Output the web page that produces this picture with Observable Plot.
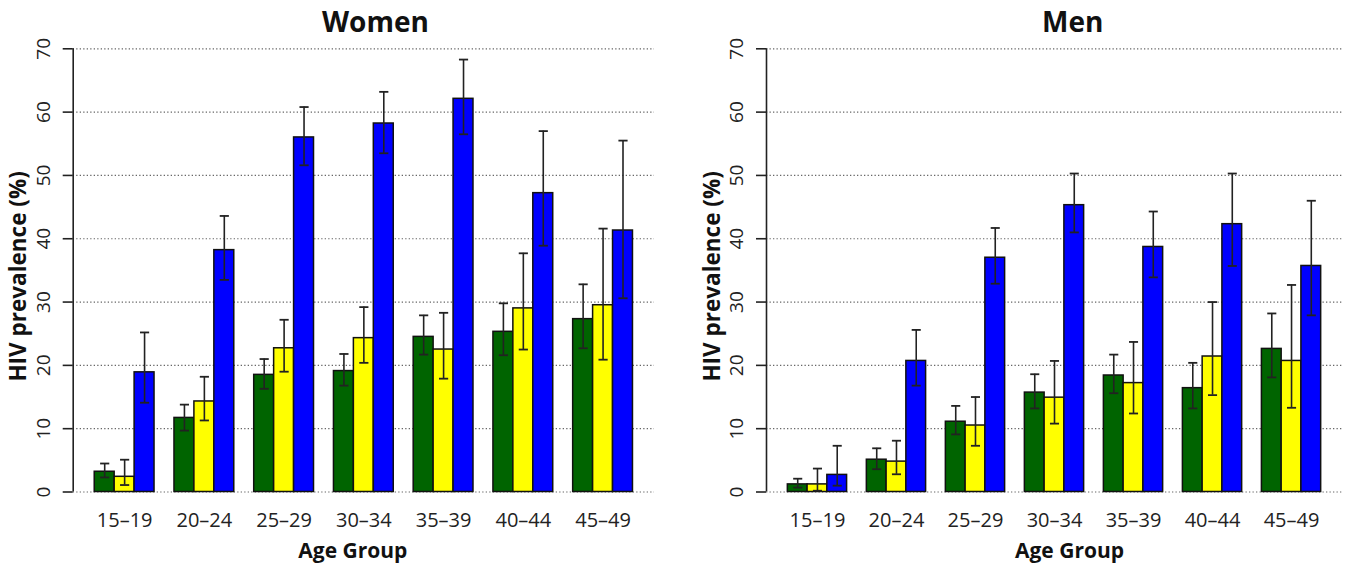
<!DOCTYPE html>
<html>
<head>
<meta charset="utf-8">
<script src="https://cdn.jsdelivr.net/npm/d3@7"></script>
<script src="https://cdn.jsdelivr.net/npm/@observablehq/plot@0.6"></script>
<style>
  html, body { margin: 0; padding: 0; background: #fff; }
  body { width: 1350px; height: 572px; overflow: hidden; font-family: "Open Sans", sans-serif; }
  #wrap { display: flex; flex-direction: row; }
  .panel { width: 675px; position: relative; }
  .title { height: 40px; line-height: 40px; padding-top: 1px; box-sizing: border-box; font-weight: 700; font-size: 28px; color: #111; white-space: nowrap; }
  svg { overflow: visible; display: block; }
</style>
</head>
<body>
<div id="wrap">
  <div class="panel" id="women"><div class="title" style="padding-left:322px">Women</div></div>
  <div class="panel" id="men"><div class="title" style="padding-left:367px">Men</div></div>
</div>
<script>
// ---- data ----
const ageGroups = ["15–19", "20–24", "25–29", "30–34", "35–39", "40–44", "45–49"];
const seriesNames = ["Series 1", "Series 2", "Series 3"];
const seriesColors = ["#006400", "#FFFF00", "#0000FF"];
const yTicks = [0, 10, 20, 30, 40, 50, 60, 70];

// Women
const womenS1 = [3.2, 11.7, 18.5, 19.1, 24.5, 25.3, 27.3];
const womenS1Lo = [2.3, 9.7, 16.3, 16.8, 21.7, 21.6, 22.7];
const womenS1Hi = [4.5, 13.8, 21.0, 21.8, 27.9, 29.8, 32.8];
const womenS2 = [2.4, 14.3, 22.7, 24.3, 22.5, 29.0, 29.5];
const womenS2Lo = [1.1, 11.3, 19.0, 20.4, 17.9, 22.5, 20.9];
const womenS2Hi = [5.1, 18.2, 27.2, 29.2, 28.3, 37.7, 41.6];
const womenS3 = [18.9, 38.2, 56.0, 58.2, 62.1, 47.2, 41.3];
const womenS3Lo = [14.1, 33.5, 51.6, 53.5, 56.5, 38.9, 30.6];
const womenS3Hi = [25.2, 43.6, 60.8, 63.2, 68.3, 57.0, 55.5];

// Men
const menS1 = [1.2, 5.1, 11.1, 15.7, 18.4, 16.4, 22.6];
const menS1Lo = [0.7, 3.6, 9.1, 13.2, 15.6, 13.2, 18.1];
const menS1Hi = [2.1, 6.9, 13.6, 18.6, 21.7, 20.4, 28.2];
const menS2 = [1.2, 4.8, 10.5, 14.9, 17.2, 21.4, 20.7];
const menS2Lo = [0.2, 2.8, 7.3, 10.8, 12.4, 15.3, 13.3];
const menS2Hi = [3.7, 8.1, 15.0, 20.7, 23.7, 30.0, 32.7];
const menS3 = [2.7, 20.7, 37.0, 45.3, 38.7, 42.3, 35.7];
const menS3Lo = [1.0, 16.8, 32.9, 41.0, 33.9, 35.7, 27.9];
const menS3Hi = [7.3, 25.6, 41.7, 50.3, 44.3, 50.3, 46.0];

// ---- build tables (R barplot style: bars width 1, group gap 1) ----
function table(vals, los, his) {
  const rows = [];
  ageGroups.forEach((g, i) => {
    for (let s = 0; s < 3; s++) {
      const pos = i * 4 + 1 + s;
      rows.push({group: g, series: seriesNames[s], x1: pos, x2: pos + 1, xm: pos + 0.5,
                 value: vals[s][i], lo: los[s][i], hi: his[s][i]});
    }
  });
  return rows;
}
const womenRows = table([womenS1, womenS2, womenS3], [womenS1Lo, womenS2Lo, womenS3Lo], [womenS1Hi, womenS2Hi, womenS3Hi]);
const menRows = table([menS1, menS2, menS3], [menS1Lo, menS2Lo, menS3Lo], [menS1Hi, menS2Hi, menS3Hi]);
const centers = ageGroups.map((g, i) => i * 4 + 2.5);
const xMin = -0.08, xMax = 29.08;
const capHalf = 0.23;

function chart(rows, mLeft, mRight, xLabelShift) {
  return Plot.plot({
    width: 675,
    height: 532,
    marginLeft: mLeft,
    marginRight: mRight,
    marginTop: 8.3,
    marginBottom: 80.5,
    style: {fontFamily: "'Open Sans', sans-serif", color: "#111", background: "transparent", overflow: "visible"},
    x: {type: "linear", domain: [xMin, xMax], axis: null},
    y: {domain: [0, 70], axis: null},
    color: {domain: seriesNames, range: seriesColors},
    marks: [
      Plot.ruleY(yTicks, {y: d => d, stroke: "#666", strokeWidth: 1.2, strokeDasharray: "1.3,2.2"}),
      Plot.rectY(rows, {x1: "x1", x2: "x2", y: "value", fill: "series", stroke: "#111", strokeWidth: 1.5}),
      Plot.ruleX(rows, {x: "xm", y1: "lo", y2: "hi", stroke: "#222", strokeWidth: 1.6}),
      Plot.link(rows, {x1: d => d.xm - capHalf, x2: d => d.xm + capHalf, y1: "hi", y2: "hi", stroke: "#222", strokeWidth: 1.8}),
      Plot.link(rows, {x1: d => d.xm - capHalf, x2: d => d.xm + capHalf, y1: "lo", y2: "lo", stroke: "#222", strokeWidth: 1.8}),
      // y axis line and ticks
      Plot.ruleX([xMin], {x: d => d, y1: 0, y2: 70, stroke: "#222", strokeWidth: 1.6}),
      Plot.axisY({ticks: yTicks, tickSize: 10, tickFormat: () => "", label: null, stroke: "#222", strokeWidth: 1.6}),
      Plot.text(yTicks, {y: d => d, frameAnchor: "left", rotate: -90, dx: -29.5, textAnchor: "middle", lineAnchor: "middle", fontSize: 19, fill: "#222", text: d => String(d)}),
      // x axis labels
      Plot.axisX({ticks: centers, tickFormat: d => ageGroups[Math.round((d - 2.5) / 4)], tickSize: 0, tickPadding: 20.5, fontSize: 20, label: null, fill: "#222"}),
      // axis titles
      Plot.text(["HIV prevalence (%)"], {frameAnchor: "left", rotate: -90, dx: -54, dy: 6, textAnchor: "middle", lineAnchor: "middle", fontSize: 22.5, fontWeight: "bold", fill: "#111", text: d => d}),
      Plot.text(["Age Group"], {frameAnchor: "bottom", dx: xLabelShift, dy: 59.5, textAnchor: "middle", lineAnchor: "middle", fontSize: 21, fontWeight: "bold", fill: "#111", text: d => d})
    ]
  });
}

document.getElementById("women").appendChild(chart(womenRows, 72.7, 21, -11));
document.getElementById("men").appendChild(chart(menRows, 91, 8, 15));
</script>
</body>
</html>
